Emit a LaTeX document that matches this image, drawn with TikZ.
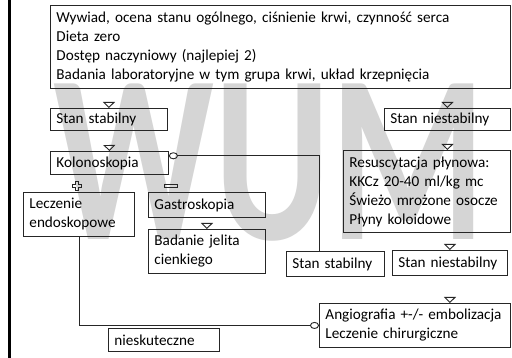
\documentclass[tikz,border=0pt]{standalone}
\usepackage{fontspec}
\setmainfont{Carlito}
\usetikzlibrary{arrows.meta,calc}
\tikzstyle{blok} = [draw=black!85, line width=0.9pt, anchor=north west, align=left, inner xsep=6pt, inner ysep=0pt, font=\fontsize{15.2}{19}\selectfont]
\tikzstyle{grot} = [draw=black!85, line width=0.9pt, -{Triangle[open,length=6pt,width=12pt]}]
\tikzstyle{kolko} = [draw=black!85, line width=0.9pt, -{Circle[open,length=9pt,width=7pt]}]
\newcommand{\blok}[5]{\node [blok, text width=#3-12pt, minimum height=#4] (#1) at #2 {#5};}

\begin{document}
\begin{tikzpicture}[x=1pt, y=-1pt]
	\useasboundingbox (0,0) rectangle (512,358);
	\fill[white] (0,0) rectangle (512,358);
	\node [text=gray!33, font=\fontsize{240}{240}\bfseries] (znak) at (270,163) {\scalebox{0.74}[1]{WUM}};
	\fill[black] (8,0) rectangle (11,358);
	\blok{gora}{(50,5)}{460pt}{83pt}{Wywiad, ocena stanu ogólnego, ciśnienie krwi, czynność serca\\Dieta zero\\Dostęp naczyniowy (najlepiej 2)\\Badania laboratoryjne w tym grupa krwi, układ krzepnięcia}
	\blok{ss1}{(50,108)}{117pt}{22pt}{Stan stabilny}
	\blok{sn1}{(384,108)}{126pt}{22pt}{Stan niestabilny}
	\blok{kol}{(50,151)}{118pt}{23pt}{Kolonoskopia}
	\blok{res}{(343,150)}{167pt}{82pt}{Resuscytacja płynowa:\\KKCz 20-40 ml/kg mc\\Świeżo mrożone osocze\\Płyny koloidowe}
	\blok{lecz}{(23,192)}{111pt}{44pt}{Leczenie\\endoskopowe}
	\blok{gastro}{(148,192)}{117pt}{25pt}{Gastroskopia}
	\blok{bad}{(148,229)}{117pt}{44pt}{Badanie jelita\\cienkiego}
	\blok{ss2}{(286,251)}{98pt}{25pt}{Stan stabilny}
	\blok{sn2}{(392,250)}{115pt}{25pt}{Stan niestabilny}
	\blok{angio}{(319,303)}{191pt}{44pt}{Angiografia +-/-~embolizacja\\Leczenie chirurgiczne}
	\blok{niesk}{(108,328)}{111pt}{23pt}{nieskuteczne}

	\draw[grot, shorten <=14pt] (ss1.north |- gora.south) -- (ss1.north);
	\draw[grot, shorten <=15pt] (ss1.south) -- (kol.north);
	\draw[grot, shorten <=14pt] (sn1.north |- gora.south) -- (sn1.north);
	\draw[grot, shorten <=14pt] (sn1.south) -- (sn1.south |- res.north);
	\draw[grot, shorten <=12pt] (sn2.north |- res.south) -- (sn2.north);
	\draw[grot, shorten <=22pt] (sn2.south) -- (sn2.south |- angio.north);
	\draw[grot, shorten <=6pt] (gastro.south) -- (bad.north);
	\draw[kolko] ($(ss2.north west)!0.34!(ss2.north east)$) |- ($(kol.north east)!0.2!(kol.south east)$);
	\draw[kolko] (lecz.south) |- (angio.west);

	\draw[black!85, line width=0.9pt] (75.5,181.5) -- (78.5,181.5) -- (78.5,184.5) -- (81.5,184.5) -- (81.5,187.5) -- (78.5,187.5) -- (78.5,190.5) -- (75.5,190.5) -- (75.5,187.5) -- (72.5,187.5) -- (72.5,184.5) -- (75.5,184.5) -- cycle;
	\draw[black!85, line width=0.9pt] (164,184) rectangle (177,187.5);
\end{tikzpicture}
\end{document}
